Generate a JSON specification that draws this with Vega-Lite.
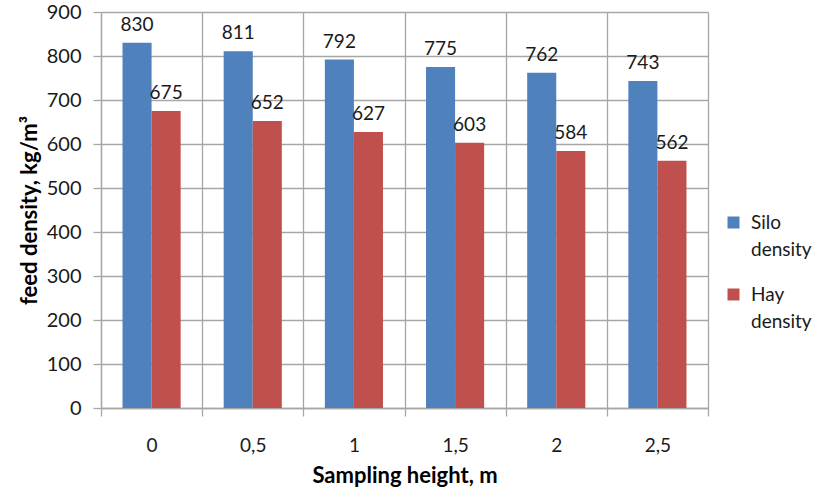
{
  "$schema": "https://vega.github.io/schema/vega-lite/v6.json",
  "width": 607,
  "height": 396,
  "autosize": {"type": "none"},
  "padding": {"left": 101, "top": 12, "right": 108, "bottom": 80},
  "background": "white",
  "config": {
    "font": "Lato",
    "view": {"stroke": null},
    "axis": {"labelFont": "Lato", "titleFont": "Lato", "labelColor": "#1a1a1a", "titleColor": "#000", "gridColor": "#a6a6a6", "domainColor": "#a6a6a6", "tickColor": "#a6a6a6", "gridWidth": 1.3, "domainWidth": 1.3, "tickWidth": 1.3}
  },
  "data": {
    "values": [
      {"h": "0", "series": "Silo density", "v": 830},
      {"h": "0", "series": "Hay density", "v": 675},
      {"h": "0,5", "series": "Silo density", "v": 811},
      {"h": "0,5", "series": "Hay density", "v": 652},
      {"h": "1", "series": "Silo density", "v": 792},
      {"h": "1", "series": "Hay density", "v": 627},
      {"h": "1,5", "series": "Silo density", "v": 775},
      {"h": "1,5", "series": "Hay density", "v": 603},
      {"h": "2", "series": "Silo density", "v": 762},
      {"h": "2", "series": "Hay density", "v": 584},
      {"h": "2,5", "series": "Silo density", "v": 743},
      {"h": "2,5", "series": "Hay density", "v": 562}
    ]
  },
  "encoding": {
    "x": {
      "field": "h", "type": "nominal", "sort": null,
      "scale": {"paddingInner": 0, "paddingOuter": 0},
      "axis": {"title": "Sampling height, m", "titleFontSize": 22, "titleFontWeight": "bold", "titlePadding": 10, "labelAngle": 0, "labelFontSize": 19, "labelPadding": 20, "tickBand": "extent", "tickSize": 8, "grid": true, "domain": true}
    },
    "xOffset": {"field": "series", "type": "nominal", "sort": ["Silo density", "Hay density"], "scale": {"paddingOuter": 0.74, "paddingInner": 0}},
    "y": {
      "field": "v", "type": "quantitative",
      "scale": {"domain": [0, 900], "nice": false},
      "axis": {"title": "feed density, kg/m³", "titleFontSize": 22, "titleFontWeight": "bold", "titlePadding": 5, "labelFontSize": 20, "labelPadding": 12, "tickSize": 8, "values": [0, 100, 200, 300, 400, 500, 600, 700, 800, 900], "grid": true}
    }
  },
  "layer": [
    {
      "mark": {"type": "bar"},
      "encoding": {
        "color": {
          "field": "series", "type": "nominal", "sort": ["Silo density", "Hay density"],
          "scale": {"domain": ["Silo density", "Hay density"], "range": ["#4F81BD", "#C0504D"]},
          "legend": {"title": null, "orient": "none", "legendX": 623, "legendY": 201, "symbolType": "square", "symbolSize": 144, "symbolStrokeWidth": 0, "labelFontSize": 19, "labelFont": "Lato", "labelColor": "#1a1a1a", "labelOffset": 8, "rowPadding": 25, "labelExpr": "split(datum.label, ' ')", "labelBaseline": "middle", "encode": {"labels": {"update": {"lineHeight": {"value": 27}}}}}
        }
      }
    },
    {
      "mark": {"type": "text", "baseline": "alphabetic", "dy": -12, "fontSize": 19, "font": "Lato", "color": "#1a1a1a"},
      "encoding": {"text": {"field": "v", "type": "quantitative"}}
    }
  ]
}
